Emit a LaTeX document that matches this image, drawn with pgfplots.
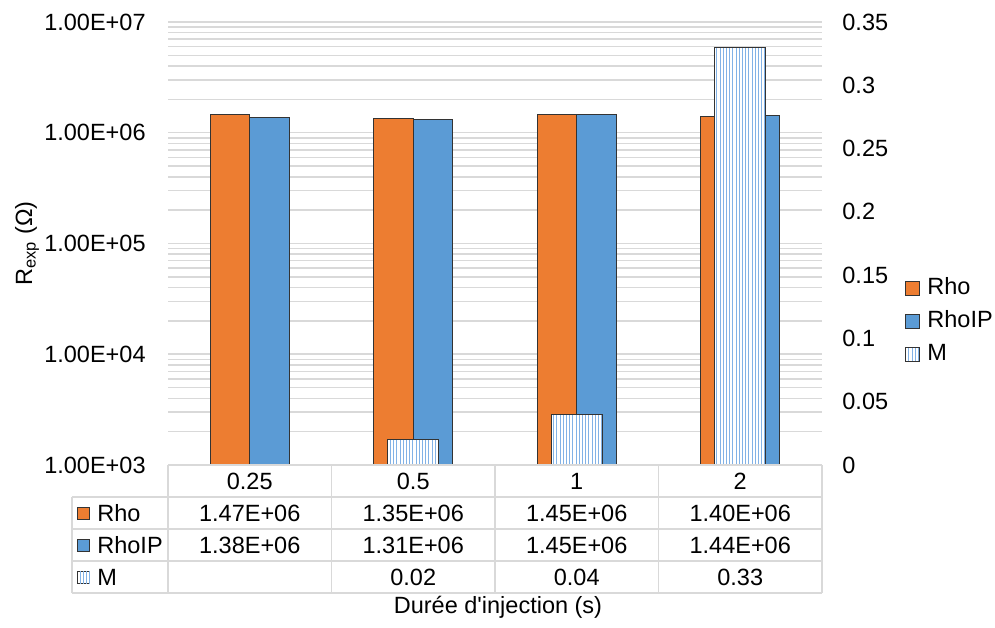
\documentclass[border=0pt]{standalone}
\usepackage{fontspec}
\setmainfont{Liberation Sans}
\usepackage{pgfplots}
\pgfplotsset{compat=1.18}
\usetikzlibrary{patterns.meta}
\definecolor{rhoOrange}{HTML}{ED7D31}
\definecolor{rhoBlue}{HTML}{5B9BD5}
\definecolor{gridgray}{HTML}{D9D9D9}
\definecolor{barEdge}{HTML}{333333}
\definecolor{patBlue}{RGB}{130,178,230}
\newcommand\fs{\fontsize{11.75pt}{14pt}\selectfont}
\tikzset{
  mpat/.style={fill=white, draw=barEdge, line width=0.5pt,
    postaction={pattern={Lines[angle=90,distance=1.6pt,line width=0.45pt]}, pattern color=patBlue}},
}
\pgfplotsset{
  sqlegend/.style={legend image code/.code={\draw[##1] (0pt,-3.5pt) rectangle (7pt,3.5pt);}},
}
\begin{document}
\begin{tikzpicture}
\path[use as bounding box] (-84pt,-81pt) rectangle (413.5pt,232.5pt);
\begin{axis}[
  at={(0pt,0pt)}, anchor=south west,
  scale only axis, width=327pt, height=221.5pt,
  ymode=log, ymin=1e3, ymax=1e7, xmin=-0.5, xmax=3.5,
  ytick={1e3,1e4,1e5,1e6,1e7},
  yticklabels={1.00E+03,1.00E+04,1.00E+05,1.00E+06,1.00E+07},
  xtick={0,1,2,3}, xticklabels={0.25,0.5,1,2},
  xticklabel style={font=\fs, anchor=center, inner sep=0pt, yshift=-8pt},
  yticklabel style={font=\fs, anchor=east, inner sep=0pt, xshift=-11pt},
  axis line style={draw=none}, major tick length=0pt, minor tick length=0pt,
  ymajorgrids, yminorgrids,
  major grid style={draw=gridgray, line width=0.75pt},
  minor grid style={draw=gridgray, line width=0.75pt},
  ybar, bar width=19.75pt,
  legend style={at={(1.127,0.3228)}, anchor=west, draw=none, fill=none,
    inner sep=0pt, row sep=5.5pt, column sep=3.5pt, font=\fs,
    nodes={inner sep=0pt, text height=8.5pt, text depth=2.5pt}},
  legend cell align=left,
]
\addplot[fill=rhoOrange, draw=barEdge, line width=0.5pt, bar shift=-9.875pt, sqlegend]
  coordinates {(0,1.47e6) (1,1.35e6) (2,1.45e6) (3,1.40e6)};
\addlegendentry{Rho}
\addplot[fill=rhoBlue, draw=barEdge, line width=0.5pt, bar shift=9.875pt, sqlegend]
  coordinates {(0,1.38e6) (1,1.31e6) (2,1.45e6) (3,1.44e6)};
\addlegendentry{RhoIP}
\addlegendimage{mpat, sqlegend}
\addlegendentry{M}
\end{axis}
\begin{axis}[
  at={(0pt,0pt)}, anchor=south west,
  scale only axis, width=327pt, height=221.5pt,
  xmin=-0.5, xmax=3.5, ymin=0, ymax=0.35,
  axis y line*=right, axis x line=none,
  axis line style={draw=none}, major tick length=0pt,
  ytick={0,0.05,0.1,0.15,0.2,0.25,0.3,0.35},
  yticklabels={0,0.05,0.1,0.15,0.2,0.25,0.3,0.35},
  yticklabel style={font=\fs, anchor=west, inner sep=0pt, xshift=10pt},
  ybar, bar width=25.5pt,
]
\addplot[mpat, bar shift=0pt] coordinates {(1,0.02) (2,0.04) (3,0.33)};
\end{axis}
% data table
\begin{scope}[draw=gridgray, line width=0.75pt]
  \draw (0pt,0pt) -- (327pt,0pt);
  \foreach \y in {-16,-32,-48,-64} \draw (-48pt,\y pt) -- (327pt,\y pt);
  \draw (-48pt,-16pt) -- (-48pt,-64pt);
  \foreach \x in {0,81.75,163.5,245.25,327} \draw (\x pt,0pt) -- (\x pt,-64pt);
\end{scope}
\begin{scope}[every node/.style={font=\fs, inner sep=0pt}]
  \draw[fill=rhoOrange, draw=barEdge, line width=0.5pt] (-45pt,-27pt) rectangle (-39pt,-21pt);
  \draw[fill=rhoBlue, draw=barEdge, line width=0.5pt] (-45pt,-43pt) rectangle (-39pt,-37pt);
  \draw[mpat] (-45pt,-59pt) rectangle (-39pt,-53pt);
  \node[anchor=west] at (-35.5pt,-24pt) {Rho};
  \node[anchor=west] at (-35.5pt,-40pt) {RhoIP};
  \node[anchor=west] at (-35.5pt,-56pt) {M};
  \node at (40.875pt,-24pt) {1.47E+06};
  \node at (122.625pt,-24pt) {1.35E+06};
  \node at (204.375pt,-24pt) {1.45E+06};
  \node at (286.125pt,-24pt) {1.40E+06};
  \node at (40.875pt,-40pt) {1.38E+06};
  \node at (122.625pt,-40pt) {1.31E+06};
  \node at (204.375pt,-40pt) {1.45E+06};
  \node at (286.125pt,-40pt) {1.44E+06};
  \node at (122.625pt,-56pt) {0.02};
  \node at (204.375pt,-56pt) {0.04};
  \node at (286.125pt,-56pt) {0.33};
  \node at (165pt,-71pt) {Durée d\textquotesingle injection (s)};
  \node[rotate=90] at (-70.5pt,110.75pt) {R\textsubscript{exp} (Ω)};
\end{scope}
\end{tikzpicture}
\end{document}
